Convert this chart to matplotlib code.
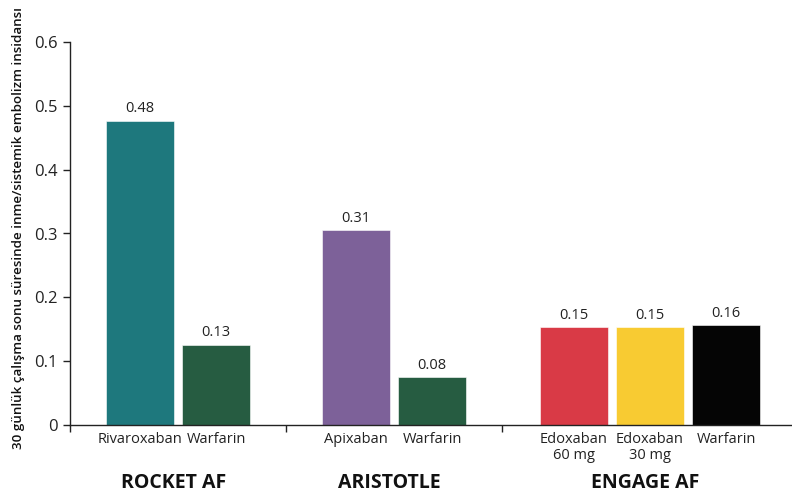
import numpy as np
import matplotlib.pyplot as plt
from matplotlib.transforms import blended_transform_factory

# data
trials = ["ROCKET AF", "ARISTOTLE", "ENGAGE AF"]
drugs = [
    ["Rivaroxaban", "Warfarin"],
    ["Apixaban", "Warfarin"],
    ["Edoxaban\n60 mg", "Edoxaban\n30 mg", "Warfarin"],
]
rates = [
    [0.477, 0.126],
    [0.305, 0.075],
    [0.153, 0.153, 0.156],
]
rate_labels = [
    ["0.48", "0.13"],
    ["0.31", "0.08"],
    ["0.15", "0.15", "0.16"],
]
bar_colors = [
    ["#1e787d", "#265c41"],
    ["#7d6199", "#265c41"],
    ["#d93a46", "#f8cb32", "#050505"],
]
ylabel = "30 günlük çalışma sonu süresinde inme/sistemik embolizm insidansı"

# layout (group width = 1 unit)
group_centers = [0.5, 1.5, 2.685]
pitch = 0.352
width = 0.318

fig = plt.figure(figsize=(7.92, 4.97), dpi=100)
ax = fig.add_axes([70 / 792, 72 / 497, 1 - 70 / 792, 383 / 497])

label_pos, label_txt = [], []
for center, names, vals, labs, cols in zip(
        group_centers, drugs, rates, rate_labels, bar_colors):
    n = len(vals)
    xs = center + (np.arange(n) - (n - 1) / 2) * pitch
    bars = ax.bar(xs, vals, width=width, color=cols,
                  edgecolor="white", linewidth=0.4)
    ax.bar_label(bars, labels=labs, padding=3, fontsize=10.5,
                 color="#222222", family="Open Sans")
    label_pos.extend(xs)
    label_txt.extend(names)

ax.set_ylim(0, 0.6)
ax.set_xlim(0, (792 - 70) / 216)
ax.set_yticks(np.arange(0, 0.61, 0.1))
ax.set_yticklabels(["0"] + [f"{v:.1f}" for v in np.arange(0.1, 0.61, 0.1)],
                   fontsize=12, family="Open Sans", color="#222222")

# group separator ticks, category labels as minor ticks
ax.set_xticks([0, 1, 2])
ax.set_xticklabels([])
ax.set_xticks(label_pos, minor=True)
ax.set_xticklabels(label_txt, minor=True, fontsize=10.5,
                   family="Open Sans", color="#222222", linespacing=1.1)
ax.tick_params(axis="x", which="minor", length=0, pad=5)
ax.tick_params(axis="x", which="major", length=5, width=1, color="#222222")
ax.tick_params(axis="y", length=5, width=1, color="#222222", pad=4)

for side in ["top", "right"]:
    ax.spines[side].set_visible(False)
for side in ["left", "bottom"]:
    ax.spines[side].set_color("#222222")
    ax.spines[side].set_linewidth(1)

trans = blended_transform_factory(ax.transData, fig.transFigure)
for center, name in zip(group_centers, trials):
    ax.text(center - 0.02, 14 / 497, name, transform=trans, ha="center",
            va="center", fontsize=14, fontweight="bold",
            family="Open Sans", color="#111111")

fig.text(19 / 792, 1 - 228 / 497, ylabel, rotation=90, ha="center",
         va="center", fontsize=9.6, fontweight="semibold",
         family="Open Sans", color="#111111")

fig.savefig("out.png", dpi=100)
